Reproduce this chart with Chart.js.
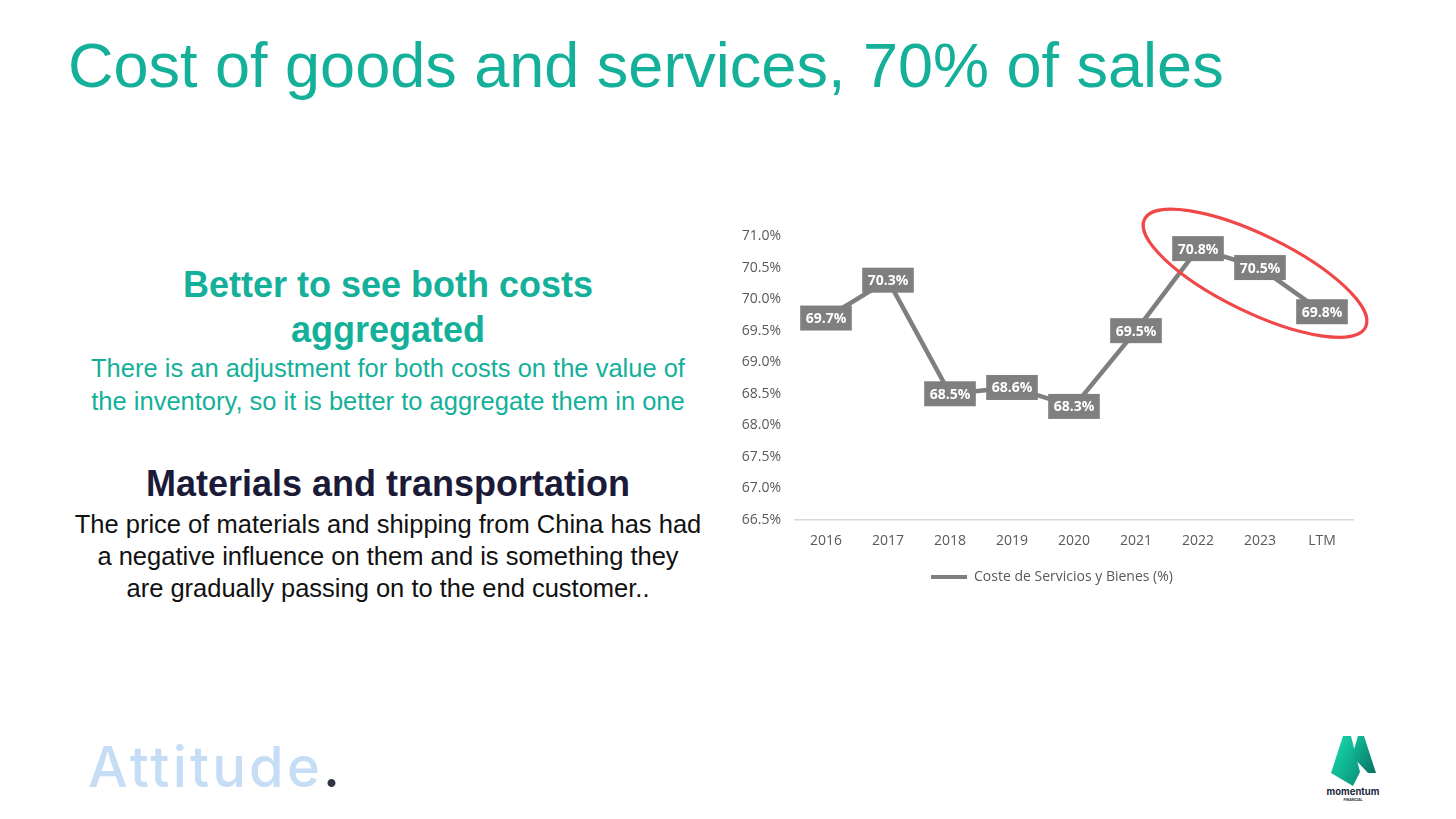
<!DOCTYPE html>
<html>
<head>
<meta charset="utf-8">
<script src="https://cdn.jsdelivr.net/npm/chart.js@4.4.1/dist/chart.umd.min.js"></script>
<style>
  html, body { margin: 0; padding: 0; background: #fff; }
  body { width: 1456px; height: 819px; position: relative; overflow: hidden; font-family: "Liberation Sans", Arial, sans-serif; }
  .abs { position: absolute; }
  #title { left: 68px; top: 34px; font-size: 63px; line-height: 63px; color: #14b09a; white-space: nowrap; }
  .blk { left: 38px; width: 700px; text-align: center; white-space: nowrap; }
  #h1 { top: 262px; font-size: 36px; line-height: 45px; font-weight: bold; color: #14b09a; }
  #p1 { top: 352px; font-size: 25.5px; line-height: 33px; color: #14b09a; }
  #h2 { top: 461px; font-size: 36px; line-height: 45px; font-weight: bold; color: #1b1b38; }
  #p2 { top: 508px; font-size: 25.5px; line-height: 32px; color: #111; }
  #att { left: 88px; top: 737px; font-family: Inter, sans-serif; font-weight: 500; font-size: 56px; line-height: 60px; letter-spacing: 3.2px; color: #c6ddf6; }
  #att span { color: #2e3440; }
  #wrap { left: 720px; top: 190px; width: 664px; height: 404px; }
</style>
</head>
<body>
<div id="title" class="abs">Cost of goods and services, 70% of sales</div>
<div id="h1" class="abs blk">Better to see both costs<br>aggregated</div>
<div id="p1" class="abs blk">There is an adjustment for both costs on the value of<br>the inventory, so it is better to aggregate them in one</div>
<div id="h2" class="abs blk">Materials and transportation</div>
<div id="p2" class="abs blk">The price of materials and shipping from China has had<br>a negative influence on them and is something they<br>are gradually passing on to the end customer..</div>
<div id="att" class="abs">Attitude<span>.</span></div>
<svg class="abs" style="left:1322px;top:730px" width="64" height="76" viewBox="0 0 64 76">
  <defs>
    <linearGradient id="g1" x1="0" y1="0" x2="1" y2="1">
      <stop offset="0" stop-color="#18e0b0"/><stop offset="1" stop-color="#0b8f78"/>
    </linearGradient>
    <linearGradient id="g2" x1="0" y1="0" x2="1" y2="1">
      <stop offset="0" stop-color="#12c49c"/><stop offset="1" stop-color="#087062"/>
    </linearGradient>
  </defs>
  <polygon points="9,43 21,6 29,6 38,42 31,56" fill="url(#g1)"/>
  <polygon points="30,26 36,6 42,6 54,43 46,43" fill="url(#g2)"/>
  <text x="31" y="65" text-anchor="middle" font-family="Inter, sans-serif" font-weight="700" font-size="9.5" fill="#1b2a3a">momentum</text>
  <text x="31" y="71" text-anchor="middle" font-family="Inter, sans-serif" font-weight="700" font-size="3.5" fill="#1b2a3a">FINANCIAL</text>
</svg>
<div id="wrap" class="abs"><canvas id="c"></canvas></div>
<script>
const years = ["2016", "2017", "2018", "2019", "2020", "2021", "2022", "2023", "LTM"];
const costPct = [69.7, 70.3, 68.5, 68.6, 68.3, 69.5, 70.8, 70.5, 69.8];
const yMin = 66.5, yMax = 71.0, yStep = 0.5;
const seriesName = "Coste de Servicios y Bienes (%)";
// highlight ring around the last three points (index / value of its centre)
const ringAt = { x: 6.92, y: 70.41 };

const GRAY = "#7f7f7f", TXT = "#595959", FONT = "'Open Sans', 'Liberation Sans', sans-serif";

const boxLabels = {
  id: "boxLabels",
  afterDatasetsDraw(chart) {
    const ctx = chart.ctx, pts = chart.getDatasetMeta(0).data;
    ctx.save();
    ctx.font = "bold 14px " + FONT;
    ctx.textAlign = "center"; ctx.textBaseline = "middle";
    pts.forEach((p, i) => {
      const t = costPct[i].toFixed(1) + "%", w = ctx.measureText(t).width + 11, h = 25;
      ctx.fillStyle = GRAY; ctx.fillRect(p.x - w / 2, p.y - h / 2, w, h);
      ctx.fillStyle = "#fff"; ctx.fillText(t, p.x, p.y + 1);
    });
    ctx.restore();
  }
};
const ring = {
  id: "ring",
  afterDraw(chart) {
    const ctx = chart.ctx, x = chart.scales.x.getPixelForValue(ringAt.x), y = chart.scales.y.getPixelForValue(ringAt.y);
    ctx.save();
    ctx.strokeStyle = "#f04848"; ctx.lineWidth = 3.2;
    ctx.beginPath(); ctx.ellipse(x, y, 123, 38.5, 26 * Math.PI / 180, 0, Math.PI * 2); ctx.stroke();
    ctx.restore();
  }
};

new Chart(document.getElementById("c"), {
  type: "line",
  data: { labels: years, datasets: [{ label: seriesName, data: costPct, borderColor: GRAY, backgroundColor: GRAY, borderWidth: 4.5, pointRadius: 0, tension: 0 }] },
  options: {
    responsive: true, maintainAspectRatio: false, animation: false,
    layout: { padding: { left: 0, right: 0, top: 46, bottom: 0 } },
    plugins: {
      tooltip: { enabled: false },
      legend: { position: "bottom", labels: { color: TXT, font: { family: FONT, size: 14 }, boxWidth: 36, boxHeight: 4, padding: 10,
        generateLabels: (c) => [{ text: seriesName, fillStyle: GRAY, strokeStyle: GRAY, lineWidth: 0, datasetIndex: 0, fontColor: TXT }] } }
    },
    scales: {
      x: { offset: true, grid: { display: false }, border: { color: "#d9d9d9", width: 1.5 },
        ticks: { color: TXT, font: { family: FONT, size: 14 }, padding: 5 }, afterFit: (s) => { s.height = 40; } },
      y: { min: yMin, max: yMax, grid: { display: false }, border: { display: false },
        ticks: { stepSize: yStep, color: TXT, font: { family: FONT, size: 14 }, padding: 6, callback: (v) => v.toFixed(1) + "%" },
        afterFit: (s) => { s.width = 75; } },
      // empty right-hand spacer so the legend sits where it does in the source
      yR: { position: "right", grid: { display: false }, border: { display: false }, ticks: { display: false },
        afterFit: (s) => { s.width = 31; } }
    }
  },
  plugins: [boxLabels, ring]
});
</script>
</body>
</html>
